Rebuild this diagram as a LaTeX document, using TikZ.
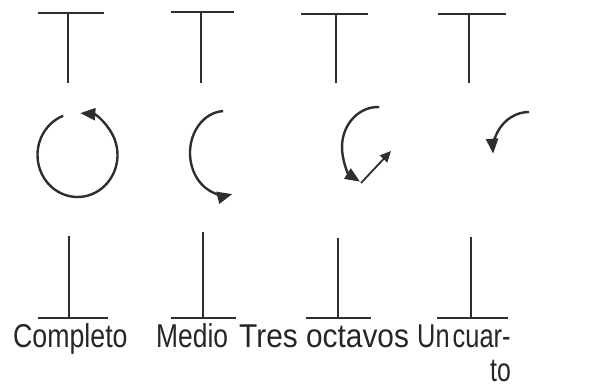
\documentclass[tikz,border=0pt]{standalone}
\usepackage{fontspec}
\setmainfont{Liberation Sans}
\usetikzlibrary{arrows.meta}
\begin{document}
\begin{tikzpicture}[x=1pt,y=-1pt,
  bar/.style={line width=2.6pt,draw=black!82},
  stem/.style={line width=1.8pt,draw=black!82},
  turn/.style={line width=2.4pt,draw=black!82,-{Triangle[length=15pt,width=12pt]}},
  lab/.style={font=\fontsize{33}{38}\selectfont,anchor=base west,inner sep=0pt,text=black!85}]
\useasboundingbox (0,0) rectangle (594,387);
% top T shapes
\foreach \i/\a/\b/\s/\y in {1/38/104/68/13, 2/171/234/201/12, 3/301/368/336/14, 4/438/506/469/14}{
  \coordinate (tl\i) at (\a,\y);
  \coordinate (tr\i) at (\b,\y);
  \coordinate (ts\i) at (\s,\y);
  \coordinate (te\i) at (\s,83);
  \draw[bar] (tl\i) -- (tr\i);
  \draw[stem] (ts\i) -- (te\i);
}
% bottom inverted T shapes
\foreach \i/\a/\b/\s/\t in {1/38/108/69/236, 2/171/236/203/232, 3/306/371/338/238, 4/437/508/471/237}{
  \coordinate (bl\i) at (\a,318);
  \coordinate (br\i) at (\b,318);
  \coordinate (bs\i) at (\s,318);
  \coordinate (be\i) at (\s,\t);
  \draw[bar] (bl\i) -- (br\i);
  \draw[stem] (be\i) -- (bs\i);
}
% turn symbols
\coordinate (c1) at (77.5,155);
\draw[turn] (c1) ++(249:40 and 42) arc[start angle=249,end angle=-86,x radius=40,y radius=42];
\coordinate (c2) at (225,153);
\draw[turn] (c2) ++(267:35 and 42) arc[start angle=267,end angle=78,x radius=35,y radius=42];
\coordinate (c3) at (378,147);
\draw[turn] (c3) ++(272:36 and 40) arc[start angle=272,end angle=120,x radius=36,y radius=40];
\coordinate (p3a) at (361,183);
\coordinate (p3b) at (391,151);
\draw[line width=1.8pt,draw=black!82,-{Triangle[length=11pt,width=10pt]}] (p3a) -- (p3b);
\coordinate (c4) at (529,151);
\draw[turn] (c4) ++(270:36 and 39) arc[start angle=270,end angle=176,x radius=36,y radius=39];
% labels
\node[lab] (l1) at (13,347) {\scalebox{0.81}[1]{Completo}};
\node[lab] (l2) at (156,347) {\scalebox{0.80}[1]{Medio}};
\node[lab] (l3) at (239,347) {\scalebox{0.905}[1]{Tres octavos}};
\node[lab] (l4) at (417,347) {\scalebox{0.77}[1]{Un\hspace{0.12em}cuar-}};
\node[lab,anchor=base east] (l5) at (511,381) {\scalebox{0.75}[1]{to}};
\end{tikzpicture}
\end{document}
